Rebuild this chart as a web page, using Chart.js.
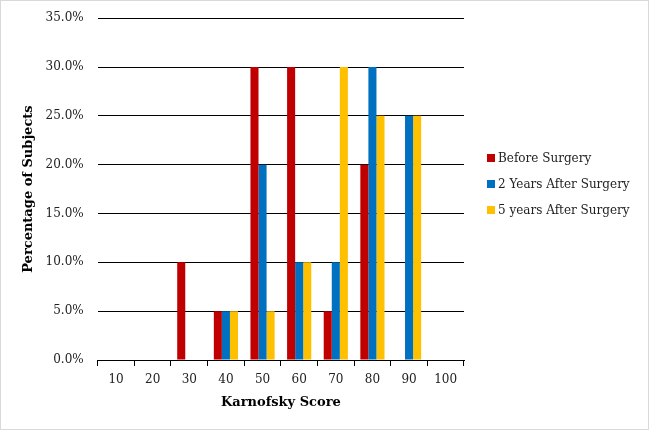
<!DOCTYPE html>
<html>
<head>
<meta charset="utf-8">
<script src="https://cdn.jsdelivr.net/npm/chart.js@4.4.0/dist/chart.umd.min.js"></script>
<style>
  html, body { margin: 0; padding: 0; background: #fff; }
  #wrap { position: relative; width: 647px; height: 428px; border: 1px solid #d9d9d9; overflow: hidden; }
  #chart { display: block; margin-top: -4px; }
  #legend { position: absolute; left: 486px; top: 147px; font-family: "DejaVu Serif", serif; font-size: 12px; color: #222; }
  #legend div { height: 26px; line-height: 20px; white-space: nowrap; }
  #legend span { display: inline-block; width: 8px; height: 8px; margin-right: 3px; }
</style>
</head>
<body>
<div id="wrap">
  <canvas id="chart" width="647" height="432"></canvas>
  <div id="legend"></div>
</div>
<script>
// categorías del eje X (puntuación Karnofsky)
const categorias = ['10', '20', '30', '40', '50', '60', '70', '80', '90', '100'];

// porcentaje de sujetos por serie
const antes      = [0, 0, 10, 5, 30, 30, 5, 20, 0, 0];
const dosAnios   = [0, 0, 0, 5, 20, 10, 10, 30, 25, 0];
const cincoAnios = [0, 0, 0, 5, 5, 10, 30, 25, 25, 0];

const nombres = ['Before Surgery', '2 Years After Surgery', '5 years After Surgery'];
const colores = ['#C00000', '#0070C0', '#FFC000'];

const fuente = '"DejaVu Serif", serif';

const datasets = [antes, dosAnios, cincoAnios].map((serie, i) => ({
    label: nombres[i],
    data: serie,
    backgroundColor: colores[i],
    borderWidth: 0,
    categoryPercentage: 0.66,
    barPercentage: 1.0
}));

new Chart(document.getElementById('chart'), {
    type: 'bar',
    data: { labels: categorias, datasets },
    options: {
        responsive: false,
        animation: false,
        layout: { padding: { top: 3, right: 184, left: 16, bottom: 15 } },
        plugins: { legend: { display: false }, tooltip: { enabled: false } },
        scales: {
            x: {
                grid: { display: true, drawOnChartArea: false, drawTicks: true, tickLength: 6, offset: true, color: '#000' },
                border: { display: true, color: '#000', width: 1 },
                ticks: { color: '#222', font: { family: fuente, size: 12 }, padding: 7 },
                title: { display: true, text: 'Karnofsky Score', color: '#000', font: { family: fuente, size: 13, weight: 'bold' }, padding: { top: 0 } }
            },
            y: {
                min: 0,
                max: 35,
                ticks: { stepSize: 5, color: '#222', font: { family: fuente, size: 12 }, padding: 14,
                         callback: v => v.toFixed(1) + '%' },
                grid: { color: '#000', lineWidth: 1, drawTicks: false },
                border: { display: false },
                title: { display: true, text: 'Percentage of Subjects', color: '#000', font: { family: fuente, size: 13, weight: 'bold' }, padding: { top: 4, bottom: -5 } }
            }
        }
    }
});

// leyenda vertical a la derecha
const leyenda = document.getElementById('legend');
nombres.forEach((n, i) => {
    const fila = document.createElement('div');
    fila.innerHTML = `<span style="background:${colores[i]}"></span>${n}`;
    leyenda.appendChild(fila);
});
</script>
</body>
</html>
